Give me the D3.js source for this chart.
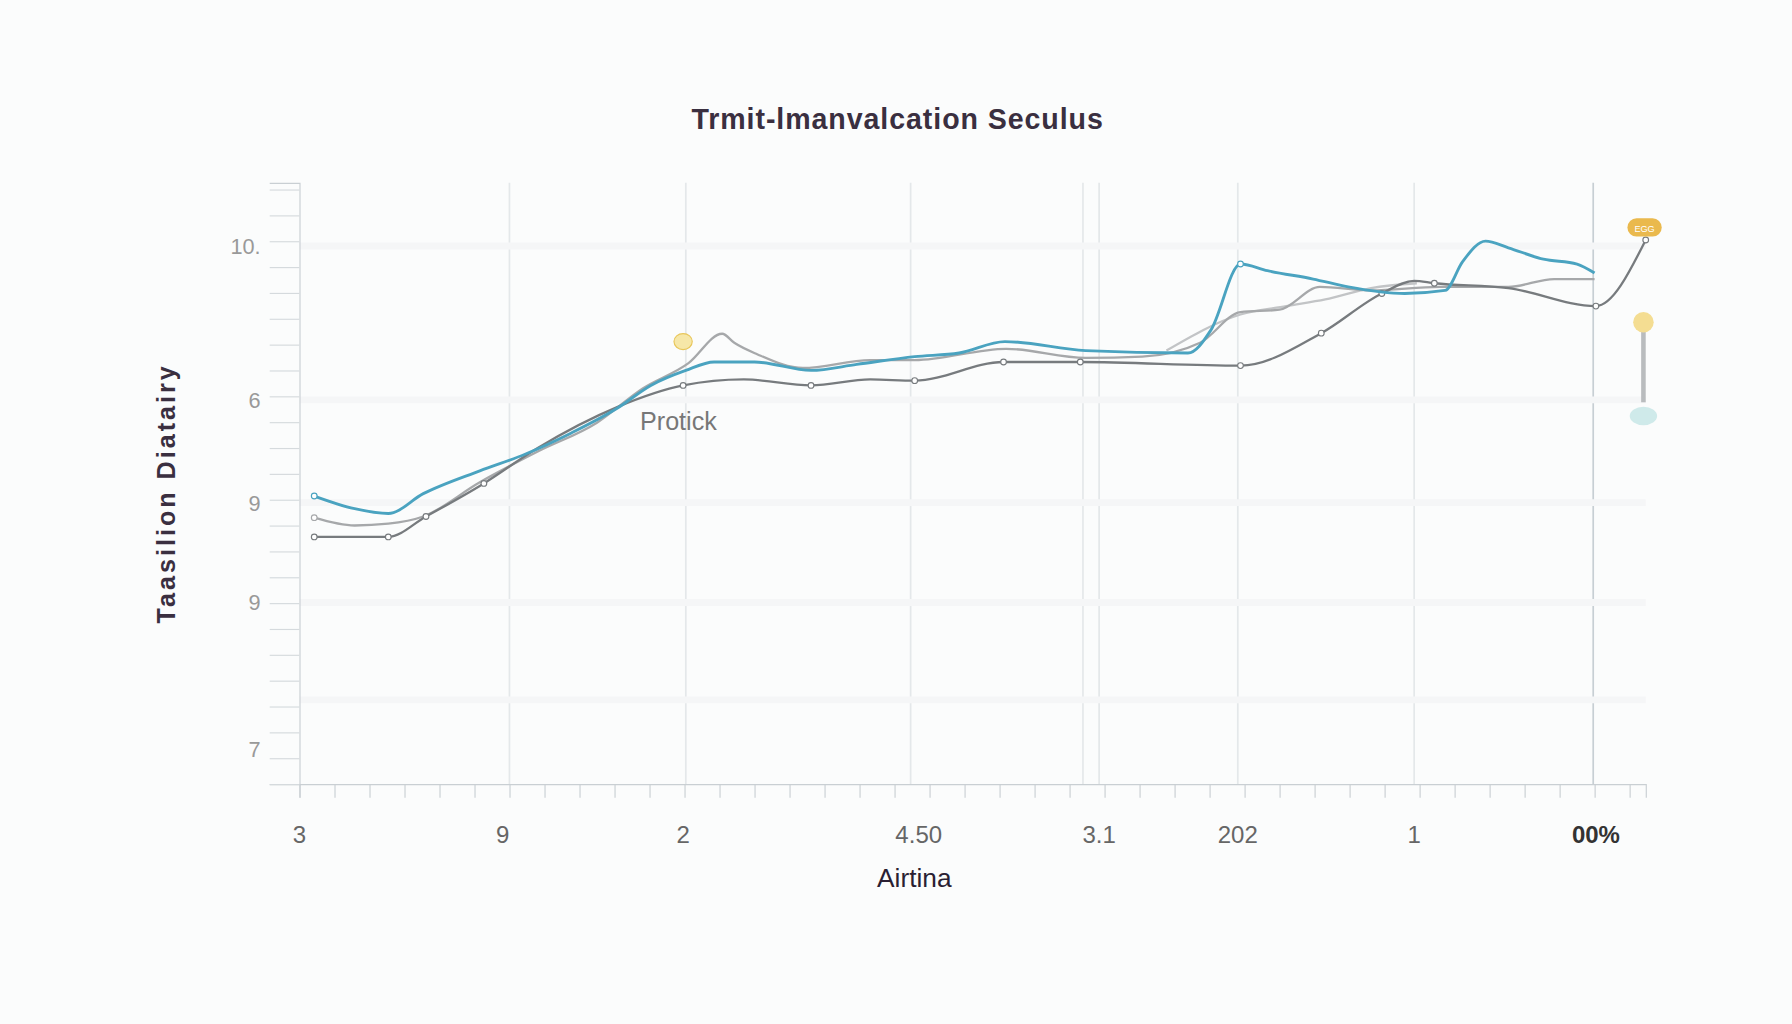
<!DOCTYPE html>
<html><head><meta charset="utf-8">
<script src="https://cdn.jsdelivr.net/npm/d3@7"></script>
<style>body{margin:0;background:#fbfcfc;}svg{display:block;font-family:"Liberation Sans",Arial,sans-serif;}</style>
</head><body>
<script>
const title = "Trmit-lmanvalcation Seculus";
const xLabel = "Airtina";
const yLabel = "Taasilion Diatairy";
const xTickPos = [0, 15.1, 28.5, 46, 59.4, 69.7, 82.8, 96.3];
const xTickLabels = ["3", "9", "2", "4.50", "3.1", "202", "1", "00%"];
const yTickPos = [89.5, 63.9, 46.8, 30.2, 5.9];
const yTickLabels = ["10.", "6", "9", "9", "7"];
const gridX = [15.6, 28.7, 45.4, 58.2, 59.4, 69.7, 82.8, 96.1];
const blueX = [1.1,4.1,6.6,9.2,13.4,16.8,20.2,23.6,26.1,28.7,30.8,33.8,38,41.4,45.7,49,52.4,58.4,66,67.7,69.9,71.9,75.3,77.9,82.1,85.1,86.4,88.1,89.8,92.4,94.9,96.2];
const blueY = [47.9,45.8,45,48.3,52.1,54.9,58.4,62.5,66.3,68.8,70.2,70.2,68.8,69.8,71.1,71.7,73.6,72.1,71.7,75.5,86.5,85.4,84,82.7,81.6,82.1,86.9,90.3,89.2,87.3,86.5,85.0];
const grayAX = [1.1,4.1,6.6,9.2,13.4,17.7,22.1,25.5,28.9,31.4,32.3,34,37.4,42.4,45.7,52.5,58.4,62.6,66.9,69.9,72.8,75.8,79.6,84.7,89.8,93.2,96.2];
const grayAY = [44.3,43,43.3,44.5,50.2,55.3,60.1,65.8,70,74.9,73.4,71.5,69.2,70.5,70.5,72.4,70.9,71.1,73.4,78.5,78.9,82.7,82.1,82.7,82.7,84,84];
const grayBX = [1.1,6.6,9.4,13.7,17.7,23.6,28.5,33,38,42.4,45.7,52.3,58,69.9,75.9,80.4,82.8,84.3,89.8,96.3,100];
const grayBY = [41.1,41.1,44.5,50,55.9,62.7,66.3,67.3,66.3,67.3,67.1,70.2,70.2,69.6,75,81.6,83.7,83.3,82.5,79.5,90.5];
const grayCX = [64.4,69.9,73.3,76.2,79.6,83];
const grayCY = [72.1,78.1,79.5,80.6,82.5,83.3];

const W=1568,H=896;
const svg=d3.select("body").append("svg").attr("width",1792).attr("height",1024).attr("viewBox",`0 0 ${W} ${H}`);
const x=d3.scaleLinear().domain([0,100]).range([262,1440]);
const y=d3.scaleLinear().domain([0,100]).range([686,160]);

svg.append("text").attr("x",785).attr("y",113).attr("text-anchor","middle").attr("font-size",25).attr("font-weight","bold").attr("fill","#3a2f40").attr("textLength",360).text(title);
// grid
svg.selectAll(".gx").data(gridX).join("line").attr("x1",d=>x(d)).attr("x2",d=>x(d)).attr("y1",160).attr("y2",686).attr("stroke",(d,i)=>i==7?"#c7cfd4":"#e4e8ea").attr("stroke-width",1.5);
svg.selectAll(".gy").data([89.5,63.9,46.8,30.2,14]).join("line").attr("x1",262).attr("x2",1440).attr("y1",d=>y(d)).attr("y2",d=>y(d)).attr("stroke","#f5f6f7").attr("stroke-width",6);
// axes
const ax=svg.append("g").attr("transform","translate(0,686)").call(d3.axisBottom(x).tickValues(d3.range(0,101,2.6)).tickSize(12).tickFormat(""));
ax.select(".domain").attr("stroke","#c9cfd3");ax.selectAll("line").attr("stroke","#c9cfd3");
svg.selectAll(".xt").data(xTickPos).join("text").attr("x",d=>x(d)).attr("y",738).attr("text-anchor","middle").attr("font-size",21).attr("fill",(d,i)=>i==7?"#333":"#666").attr("font-weight",(d,i)=>i==7?"bold":"normal").text((d,i)=>xTickLabels[i]);
const ay=svg.append("g").attr("transform","translate(262,0)").call(d3.axisLeft(y).tickValues(d3.range(0,101,4.3)).tickSize(26).tickFormat(""));
ay.select(".domain").attr("stroke","#c9cfd3");ay.selectAll("line").attr("stroke","#d5dadd");
svg.selectAll(".yt").data(yTickPos).join("text").attr("x",228).attr("y",d=>y(d)+7).attr("text-anchor","end").attr("font-size",19).attr("fill","#999").text((d,i)=>yTickLabels[i]);
svg.append("text").attr("transform","translate(153,433) rotate(-90)").attr("text-anchor","middle").attr("font-size",22).attr("font-weight","bold").attr("fill","#3a2f40").attr("textLength",225).text(yLabel);
svg.append("text").attr("x",800).attr("y",776).attr("text-anchor","middle").attr("font-size",23).attr("fill","#2a1f33").text(xLabel);

const line=d3.line().x(d=>x(d[0])).y(d=>y(d[1])).curve(d3.curveMonotoneX);
function draw(X,Y,c,w,dots){const pts=X.map((v,i)=>[v,Y[i]]);
 svg.append("path").attr("d",line(pts)).attr("fill","none").attr("stroke",c).attr("stroke-width",w);
 if(dots) svg.selectAll(null).data(pts.filter((d,i)=>dots.includes(i))).join("circle").attr("cx",d=>x(d[0])).attr("cy",d=>y(d[1])).attr("r",2.5).attr("fill","#fff").attr("stroke",c);}
draw(grayCX,grayCY,"#c2c4c6",2,null);
draw(grayAX,grayAY,"#a6a8aa",2,[0]);
draw(grayBX,grayBY,"#777b7e",2,[0,1,2,3,6,8,10,11,12,13,14,15,17,19,20]);
draw(blueX,blueY,"#4aa3c0",2.5,[0,20]);
svg.append("text").attr("x",560).attr("y",376).attr("font-size",22).attr("fill","#777").text("Protick");
svg.append("ellipse").attr("cx",x(28.5)).attr("cy",y(73.6)).attr("rx",8).attr("ry",7).attr("fill","#f6e7a8").attr("stroke","#e8c65a");
// right markers
svg.append("rect").attr("x",1424).attr("y",191).attr("width",30).attr("height",16).attr("rx",8).attr("fill","#eab94d");
svg.append("text").attr("x",1439).attr("y",203).attr("text-anchor","middle").attr("font-size",8).attr("fill","#fff").text("EGG");
svg.append("line").attr("x1",1438).attr("x2",1438).attr("y1",290).attr("y2",352).attr("stroke","#b9bcbe").attr("stroke-width",4);
svg.append("circle").attr("cx",1438).attr("cy",282).attr("r",9).attr("fill","#f4dd92");
svg.append("ellipse").attr("cx",1438).attr("cy",364).attr("rx",12).attr("ry",8).attr("fill","#cfeaea");
</script>
</body></html>
